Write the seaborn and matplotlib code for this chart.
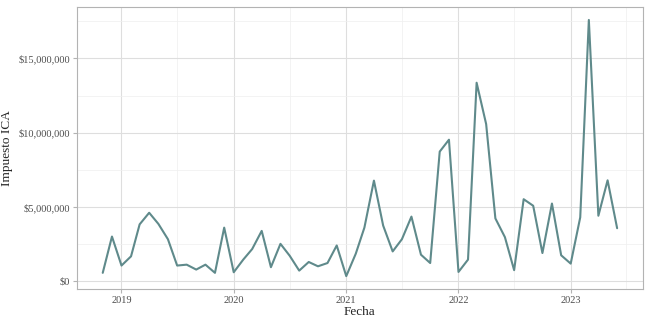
import pandas as pd
import numpy as np
import seaborn as sns
import matplotlib.pyplot as plt
import matplotlib.dates as mdates
from matplotlib.ticker import FuncFormatter, MultipleLocator

# monthly ICA tax collection (millions of pesos), Nov 2018 - Jun 2023
fechas = pd.date_range('2018-11-01', '2023-06-01', freq='MS')
impuesto_mill = [
    0.58, 3.02,
    1.07, 1.69, 3.84, 4.62, 3.87, 2.84, 1.07, 1.13, 0.80, 1.13, 0.58, 3.62,
    0.62, 1.47, 2.18, 3.40, 0.96, 2.53, 1.73, 0.73, 1.31, 1.02, 1.24, 2.42,
    0.36, 1.87, 3.62, 6.78, 3.76, 2.02, 2.84, 4.36, 1.80, 1.24, 8.73, 9.53,
    0.64, 1.47, 13.36, 10.58, 4.24, 2.98, 0.76, 5.53, 5.09, 1.91, 5.24, 1.76,
    1.20, 4.31, 17.58, 4.42, 6.80, 3.58,
]
df = pd.DataFrame({'Fecha': fechas, 'Impuesto': np.array(impuesto_mill) * 1e6})

sns.set_theme(style='white')
plt.rcParams['font.family'] = ['Liberation Serif', 'DejaVu Serif']

fig, ax = plt.subplots(figsize=(6.5, 3.25), dpi=100)
fig.subplots_adjust(left=0.1185, right=0.989, top=0.978, bottom=0.111)

sns.lineplot(data=df, x='Fecha', y='Impuesto', color='#5F8A8B', linewidth=1.5, ax=ax)

# ggplot-like 5% expansion
xmin, xmax = mdates.date2num(fechas[0]), mdates.date2num(fechas[-1])
pad = (xmax - xmin) * 0.05
ax.set_xlim(xmin - pad, xmax + pad)
ymin, ymax = df['Impuesto'].min(), df['Impuesto'].max()
ypad = (ymax - ymin) * 0.05
ax.set_ylim(ymin - ypad, ymax + ypad)

ax.xaxis.set_major_locator(mdates.YearLocator())
ax.xaxis.set_major_formatter(mdates.DateFormatter('%Y'))
ax.xaxis.set_minor_locator(mdates.MonthLocator(bymonth=7))
ax.yaxis.set_major_locator(MultipleLocator(5e6))
ax.yaxis.set_minor_locator(MultipleLocator(2.5e6))
ax.yaxis.set_major_formatter(FuncFormatter(lambda v, p: '${:,.0f}'.format(v)))

ax.grid(which='major', color='#DEDEDE', linewidth=0.8)
ax.grid(which='minor', color='#EFEFEF', linewidth=0.5)
ax.set_axisbelow(True)
for s in ax.spines.values():
    s.set_color('#B3B3B3')
    s.set_linewidth(0.8)

ax.tick_params(axis='both', which='major', labelsize=7.5, labelcolor='#4D4D4D',
               color='#B3B3B3', length=3, width=0.8, pad=2, bottom=True, left=True)
ax.tick_params(axis='both', which='minor', length=0)

ax.set_xlabel('Fecha', fontsize=9.5, labelpad=1)
ax.set_ylabel('Impuesto ICA', fontsize=9.5, labelpad=4)

plt.savefig('out.png', dpi=100)
